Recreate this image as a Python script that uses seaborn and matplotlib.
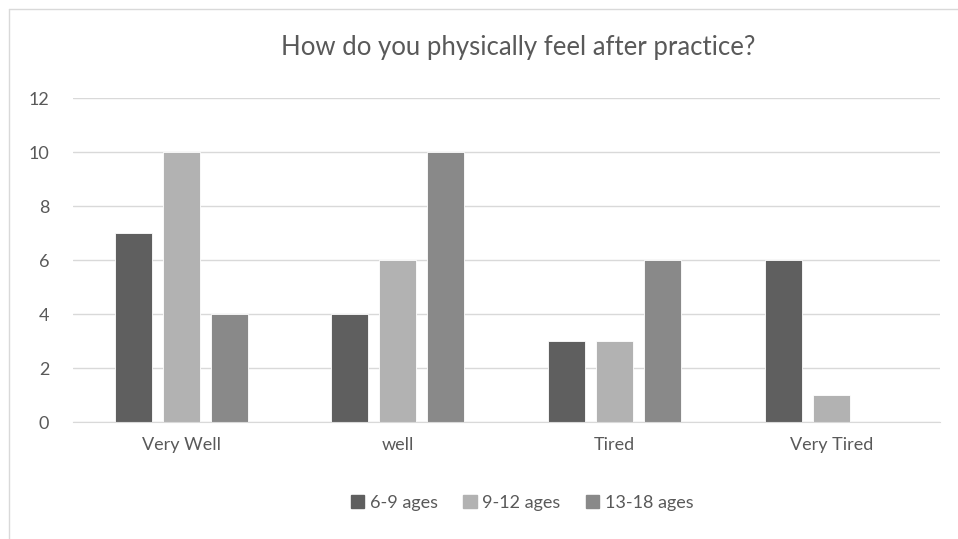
import pandas as pd
import matplotlib
matplotlib.use("Agg")
import matplotlib.pyplot as plt
import seaborn as sns
from matplotlib.lines import Line2D

# -----------------------------------------
# Data
# -----------------------------------------

categories = ["Very Well", "well", "Tired", "Very Tired"]
groups = ["6-9 ages", "9-12 ages", "13-18 ages"]
ages_6_9 = [7, 4, 3, 6]
ages_9_12 = [10, 6, 3, 1]
ages_13_18 = [4, 10, 6, 0]
colors = ["#5f5f5f", "#b2b2b2", "#898989"]

rows = []
for g, vals in zip(groups, [ages_6_9, ages_9_12, ages_13_18]):
    for c, v in zip(categories, vals):
        rows.append([c, g, v])
df = pd.DataFrame(rows, columns=["Feeling", "Group", "Count"])

# -----------------------------------------
# Plot
# -----------------------------------------

sns.set_style("white")
plt.rcParams["font.family"] = ["Lato", "DejaVu Sans"]

fig = plt.figure(figsize=(9.58, 5.39), dpi=100)
ax = fig.add_axes([0.076, 0.217, 0.905, 0.601])

sns.barplot(
    data=df,
    x="Feeling",
    y="Count",
    hue="Group",
    order=categories,
    hue_order=groups,
    palette=colors,
    width=0.664,
    gap=0.23,
    edgecolor="white",
    linewidth=0.6,
    legend=False,
    ax=ax
)

ax.set_ylim(0, 12)
ax.set_yticks(range(0, 13, 2))
ax.set_xlim(-0.5, 3.5)
ax.grid(axis="y", color="#d9d9d9", linewidth=1)
ax.set_axisbelow(True)
for s in ["top", "right", "left"]:
    ax.spines[s].set_visible(False)
ax.spines["bottom"].set_color("#d9d9d9")
ax.tick_params(axis="both", length=0, labelsize=13, colors="#595959")
ax.tick_params(axis="y", pad=17)
ax.tick_params(axis="x", pad=11)
ax.set_xlabel("")
ax.set_ylabel("")

# chart area is wider than the visible crop, so centre sits right of middle
fig.text(518 / 958, 0.911, "How do you physically feel after practice?",
         ha="center", va="center", fontsize=18.5, color="#595959")

handles = [plt.Rectangle((0, 0), 1, 1, color=c) for c in colors]
fig.legend(handles, groups, loc="center", bbox_to_anchor=(522 / 958, 1 - 503 / 539),
           ncol=3, frameon=False, fontsize=13, labelcolor="#595959",
           handlelength=0.75, handleheight=0.75, handletextpad=0.3,
           columnspacing=1.4)

# chart border (left and top edges visible)
fig.add_artist(Line2D([8.5 / 958, 8.5 / 958], [0, 1 - 8.5 / 539],
                      transform=fig.transFigure, color="#d9d9d9", linewidth=1))
fig.add_artist(Line2D([8.5 / 958, 1], [1 - 8.5 / 539, 1 - 8.5 / 539],
                      transform=fig.transFigure, color="#d9d9d9", linewidth=1))

fig.savefig("out.png", dpi=100, facecolor="white")
